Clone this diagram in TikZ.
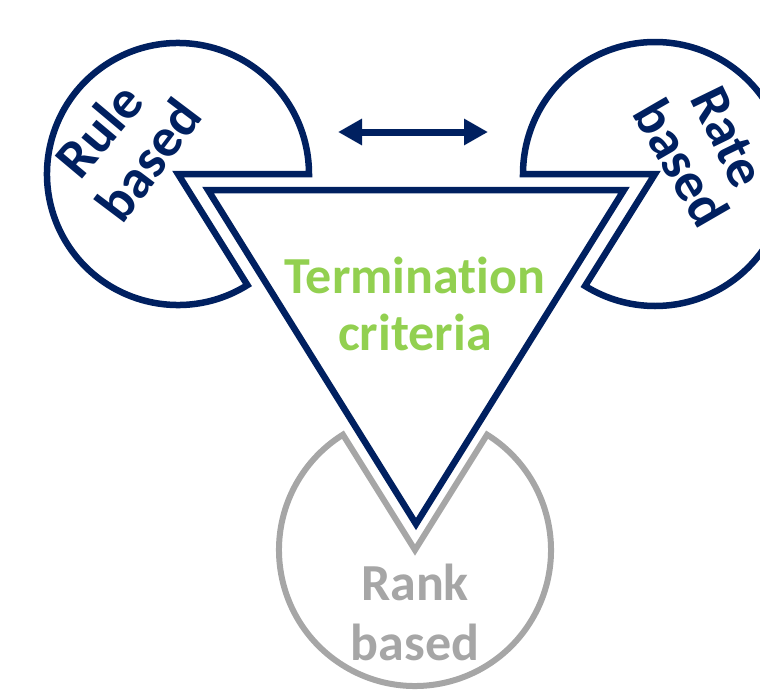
\documentclass[tikz,border=0pt]{standalone}
\usepackage{fontspec}
\setmainfont[Ligatures={NoCommon,NoRare,NoContextual}]{Carlito}
\usetikzlibrary{arrows.meta}
\definecolor{navy}{RGB}{0,32,96}
\definecolor{lgreen}{RGB}{146,208,80}
\definecolor{lgray}{RGB}{166,166,166}
\begin{document}
\begin{tikzpicture}[x=1pt,y=-1pt,
  pie/.style={line width=6.5pt, line join=miter, miter limit=10},
  lbl/.style={font=\fontsize{52}{60}\selectfont\bfseries, inner sep=0pt},
  rlbl/.style={font=\fontsize{55}{60}\selectfont\bfseries, inner sep=0pt, text=navy}
]
\useasboundingbox (0,0) rectangle (760,696);
% pie centres
\coordinate (c1) at (178,174);
\coordinate (c2) at (655,174);
\coordinate (c3) at (415,550);
% pies with wedge cut out
\draw[pie,draw=navy] (c1) -- ++(58:131) arc[start angle=58,end angle=360,radius=131] -- cycle;
\draw[pie,draw=navy] (c2) -- ++(180:132) arc[start angle=180,end angle=482,radius=132] -- cycle;
\draw[pie,draw=lgray,line width=6pt] (c3) -- ++(302:136) arc[start angle=302,end angle=598,radius=136] -- cycle;
% central triangle
\coordinate (ta) at (208,190);
\coordinate (tb) at (624,190);
\coordinate (tc) at (416,524);
\draw[pie,draw=navy] (ta) -- (tb) -- (tc) -- cycle;
% double arrow
\coordinate (al) at (338,132);
\coordinate (ar) at (488,132);
\draw[navy,line width=7pt,{Triangle[length=24pt,width=25pt]}-{Triangle[length=24pt,width=25pt]}] (al) -- (ar);
% texts
\node[lbl,text=lgreen,anchor=base] (t1) at (415,293) {Termination};
\node[lbl,text=lgreen,anchor=base] (t2) at (415,350) {criteria};
\node[lbl,text=lgray,anchor=base] (k1) at (415,600) {Rank};
\node[lbl,text=lgray,anchor=base] (k2) at (415,660) {based};
\node[rlbl,rotate=50] (u1) at (99,130) {Rule};
\node[rlbl,rotate=53] (u2) at (148,160) {based};
\node[rlbl,rotate=-64] (r1) at (728,137) {Rate};
\node[rlbl,rotate=-60] (r2) at (682,163) {based};
\end{tikzpicture}
\end{document}
